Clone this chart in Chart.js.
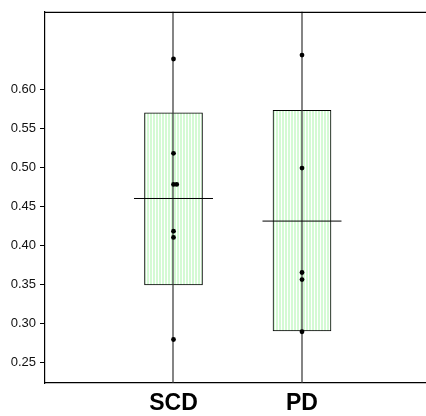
<!DOCTYPE html>
<html><head><meta charset="utf-8">
<script src="https://cdn.jsdelivr.net/npm/chart.js@4.4.1/dist/chart.umd.min.js"></script>
<style>html,body{margin:0;padding:0;background:#fff}#wrap{width:426px;height:416px}</style>
</head><body><div id="wrap"><canvas id="c"></canvas></div>
<script>
const categories = ['SCD', 'PD'];
const boxLow = [0.349, 0.290];
const boxHigh = [0.570, 0.573];
const means = [0.460, 0.431];
const scdPoints = [0.639, 0.518, 0.478, 0.478, 0.418, 0.410, 0.279];
const scdJitter = [0, 0, 0, 0.025, 0, 0, 0];
const pdPoints = [0.644, 0.499, 0.365, 0.356, 0.289];
const pdJitter = [0, 0, 0, 0, 0];
const yTicks = [0.25, 0.30, 0.35, 0.40, 0.45, 0.50, 0.55, 0.60];

const pc = document.createElement('canvas');
pc.width = 3; pc.height = 4;
const pctx = pc.getContext('2d');
pctx.fillStyle = '#ffffff'; pctx.fillRect(0, 0, 3, 4);
pctx.fillStyle = '#d4fad4'; pctx.fillRect(0, 0, 2, 4);
const ctx = document.getElementById('c').getContext('2d');
const pattern = ctx.createPattern(pc, 'repeat');

const pointData = [];
scdPoints.forEach((v, i) => pointData.push({x: 1 + scdJitter[i], y: v}));
pdPoints.forEach((v, i) => pointData.push({x: 2 + pdJitter[i], y: v}));

const frame = {
  id: 'frame',
  afterDraw(chart) {
    const {ctx, chartArea: a} = chart;
    ctx.save();
    ctx.strokeStyle = '#000'; ctx.lineWidth = 1.2;
    ctx.beginPath(); ctx.moveTo(a.left, a.top + 0.5); ctx.lineTo(a.right, a.top + 0.5); ctx.stroke();
    ctx.restore();
  }
};
const vlines = {
  id: 'vlines',
  afterDatasetDraw(chart, args) {
    if (args.index !== 0) return;
    const {ctx, chartArea: a, scales} = chart;
    ctx.save();
    ctx.strokeStyle = '#333'; ctx.lineWidth = 1.2;
    categories.forEach((c, i) => {
      const x = Math.round(scales.x.getPixelForValue(i + 1));
      ctx.beginPath(); ctx.moveTo(x, a.top); ctx.lineTo(x, a.bottom); ctx.stroke();
    });
    ctx.restore();
  }
};

new Chart(ctx, {
  data: {
    datasets: [
      {
        type: 'bar',
        data: categories.map((c, i) => ({x: i + 1, y: [boxLow[i], boxHigh[i]]})),
        backgroundColor: pattern,
        borderColor: '#000',
        borderWidth: 1,
        borderSkipped: false,
        barThickness: 58,
        order: 3
      },
      {
        type: 'scatter',
        data: categories.map((c, i) => ({x: i + 1, y: means[i]})),
        pointStyle: 'line',
        pointRadius: 39.5,
        borderColor: '#000',
        borderWidth: 1,
        order: 2
      },
      {
        type: 'scatter',
        data: pointData,
        pointRadius: 2.4,
        backgroundColor: '#000',
        borderColor: '#000',
        borderWidth: 0,
        order: 1
      }
    ]
  },
  options: {
    responsive: true,
    maintainAspectRatio: false,
    animation: false,
    layout: {autoPadding: false, padding: {top: 10, right: 0, left: 0, bottom: 0}},
    plugins: {legend: {display: false}, tooltip: {enabled: false}},
    scales: {
      x: {
        type: 'linear', min: 0, max: 2.965, offset: false,
        afterBuildTicks: ax => { ax.ticks = categories.map((c, i) => ({value: i + 1})); },
        afterFit: ax => { ax.height = 33; },
        grid: {display: false, drawTicks: false, offset: false},
        border: {display: true, color: '#000', width: 1.2},
        ticks: {
          callback: v => categories[Math.round(v) - 1],
          font: {family: 'Liberation Sans, Arial, sans-serif', size: 23, weight: 'bold'},
          color: '#000', padding: 7, maxRotation: 0, autoSkip: false
        }
      },
      y: {
        type: 'linear', min: 0.2232, max: 0.6996,
        afterBuildTicks: ax => { ax.ticks = yTicks.map(v => ({value: v})); },
        afterFit: ax => { ax.width = 45; },
        grid: {drawOnChartArea: false, drawTicks: true, tickLength: 5, color: '#000', lineWidth: 1},
        border: {display: true, color: '#000', width: 1.2},
        ticks: {
          callback: v => v.toFixed(2),
          font: {family: 'Liberation Sans, Arial, sans-serif', size: 13},
          color: '#111', padding: 4
        }
      }
    }
  },
  plugins: [frame, vlines]
});
</script></body></html>
